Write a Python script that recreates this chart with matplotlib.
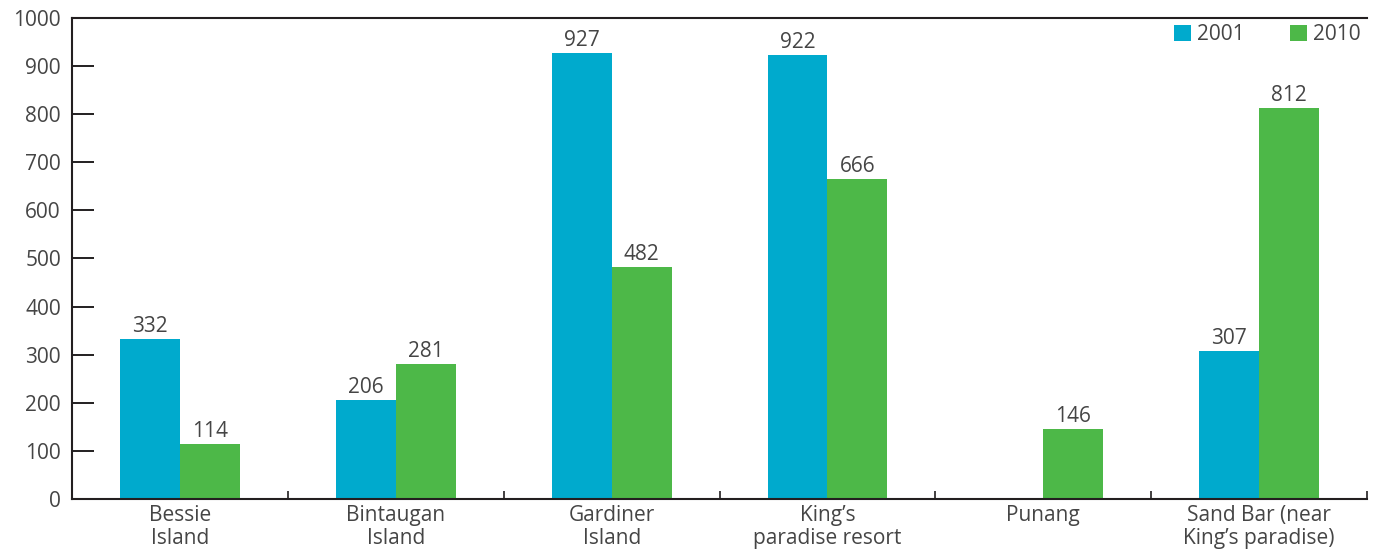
import matplotlib
matplotlib.use("Agg")
import matplotlib.pyplot as plt
from matplotlib.ticker import FixedLocator
import numpy as np

categories = ["Bessie\nIsland", "Bintaugan\nIsland", "Gardiner\nIsland",
              "King’s\nparadise resort", "Punang", "Sand Bar (near\nKing’s paradise)"]
values_2001 = [332, 206, 927, 922, None, 307]
values_2010 = [114, 281, 482, 666, 146, 812]
series_labels = ["2001", "2010"]
y_ticks = [0, 100, 200, 300, 400, 500, 600, 700, 800, 900, 1000]

blue = "#00AACD"
green = "#4DB848"
text_color = "#454545"
axis_color = "#231f20"

plt.rcParams["font.family"] = ["Open Sans", "DejaVu Sans"]

fig = plt.figure(figsize=(13.86, 5.53), dpi=100)
ax = fig.add_axes([0.052, 0.0976, 0.9343, 0.8699])

x = np.arange(len(categories))
w = 60 / 216

v01 = [np.nan if v is None else v for v in values_2001]
b1 = ax.bar(x - w / 2, v01, width=w, color=blue, label=series_labels[0])
b2 = ax.bar(x + w / 2, values_2010, width=w, color=green, label=series_labels[1])

fs = 15
for bars, vals in ((b1, values_2001), (b2, values_2010)):
    for rect, v in zip(bars, vals):
        if v is None:
            continue
        ax.annotate(f"{v}", (rect.get_x() + rect.get_width() / 2, v),
                    xytext=(0, 1.5), textcoords="offset points",
                    ha="center", va="bottom", fontsize=fs, color=text_color)

ax.set_xlim(-0.5, len(categories) - 0.5)
ax.set_ylim(0, 1000)
ax.set_yticks(y_ticks)
ax.set_yticklabels([str(t) for t in y_ticks], fontsize=fs, color=text_color)
ax.set_xticks(x)
ax.set_xticklabels(categories, fontsize=fs, color=text_color, linespacing=1.12)
ax.xaxis.set_minor_locator(FixedLocator(np.arange(len(categories) + 1) - 0.5))

ax.tick_params(axis="y", direction="in", length=16, width=1.4, color=axis_color, pad=8)
ax.tick_params(axis="x", which="major", length=0, pad=4)
ax.tick_params(axis="x", which="minor", direction="in", length=6, width=1.2,
               color=axis_color)

for side in ("left", "bottom", "top"):
    ax.spines[side].set_color(axis_color)
    ax.spines[side].set_linewidth(1.5)
ax.spines["right"].set_visible(False)

leg = ax.legend(loc="upper right", frameon=False, ncol=2,
                handlelength=0.8, handleheight=0.8, handletextpad=0.3,
                columnspacing=2.2, borderaxespad=0.0, borderpad=0.3,
                prop={"size": fs})
for t in leg.get_texts():
    t.set_color(text_color)

fig.savefig("out.png", dpi=100)
